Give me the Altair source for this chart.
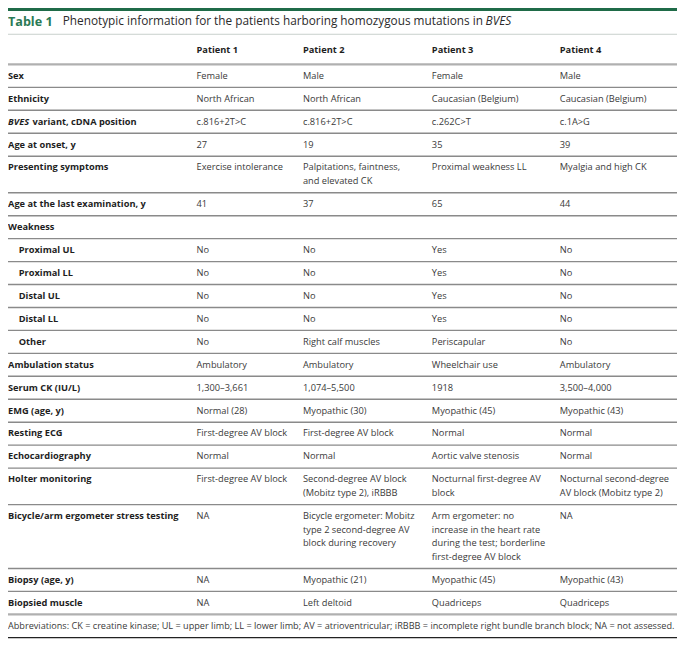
import altair as alt
import pandas as pd

# ---------------- data ----------------
title_parts = ["Table 1",
               "Phenotypic information for the patients harboring homozygous mutations in",
               "BVES"]
patients = ["Patient 1", "Patient 2", "Patient 3", "Patient 4"]

labels = ["Sex", "Ethnicity", "BVES variant, cDNA position", "Age at onset, y",
          "Presenting symptoms", "Age at the last examination, y", "Weakness",
          "Proximal UL", "Proximal LL", "Distal UL", "Distal LL", "Other",
          "Ambulation status", "Serum CK (IU/L)", "EMG (age, y)", "Resting ECG",
          "Echocardiography", "Holter monitoring",
          "Bicycle/arm ergometer stress testing", "Biopsy (age, y)", "Biopsied muscle"]
indented = ["Proximal UL", "Proximal LL", "Distal UL", "Distal LL", "Other"]
italic_prefix = {"BVES variant, cDNA position": ("BVES", "variant, cDNA position")}

p1 = ["Female", "North African", "c.816+2T>C", "27", "Exercise intolerance", "41", "",
      "No", "No", "No", "No", "No", "Ambulatory", "1,300–3,661", "Normal (28)",
      "First-degree AV block", "Normal", "First-degree AV block", "NA", "NA", "NA"]
p2 = ["Male", "North African", "c.816+2T>C", "19",
      "Palpitations, faintness,\nand elevated CK", "37", "",
      "No", "No", "No", "No", "Right calf muscles", "Ambulatory", "1,074–5,500",
      "Myopathic (30)", "First-degree AV block", "Normal",
      "Second-degree AV block\n(Mobitz type 2), iRBBB",
      "Bicycle ergometer: Mobitz\ntype 2 second-degree AV\nblock during recovery",
      "Myopathic (21)", "Left deltoid"]
p3 = ["Female", "Caucasian (Belgium)", "c.262C>T", "35", "Proximal weakness LL", "65", "",
      "Yes", "Yes", "Yes", "Yes", "Periscapular", "Wheelchair use", "1918",
      "Myopathic (45)", "Normal", "Aortic valve stenosis",
      "Nocturnal first-degree AV\nblock",
      "Arm ergometer: no\nincrease in the heart rate\nduring the test; borderline\nfirst-degree AV block",
      "Myopathic (45)", "Quadriceps"]
p4 = ["Male", "Caucasian (Belgium)", "c.1A>G", "39", "Myalgia and high CK", "44", "",
      "No", "No", "No", "No", "No", "Ambulatory", "3,500–4,000", "Myopathic (43)",
      "Normal", "Normal", "Nocturnal second-degree\nAV block (Mobitz type 2)", "NA",
      "Myopathic (43)", "Quadriceps"]
footnote = ("Abbreviations: CK = creatine kinase; UL = upper limb; LL = lower limb; "
            "AV = atrioventricular; iRBBB = incomplete right bundle branch block; "
            "NA = not assessed.")

# ---------------- layout ----------------
W, H = 669, 632
REF_W, REF_H = 685, 650
sy = H / REF_H
FONT = "Open Sans"
FS = 9.25
FFS = 9.15
TFS = 11.8
col_x = [193, 302, 434, 565]
label_x, indent_x = 0, 11
row_h1, line_h = 23.6, 14
header_bottom = 58

values = [p1, p2, p3, p4]
row_tops = []
t = header_bottom
for i in range(len(labels)):
    n = max(v[i].count("\n") + 1 for v in values)
    row_tops.append(t)
    t += row_h1 + line_h * (n - 1)
table_bottom = t

xs = alt.Scale(domain=[0, REF_W], nice=False, zero=False)
ys = alt.Scale(domain=[0, REF_H], reverse=True, nice=False, zero=False)
X = lambda f: alt.X(f, type="quantitative", scale=xs, axis=None)
Y = lambda f: alt.Y(f, type="quantitative", scale=ys, axis=None)

cells = []
for ci, v in enumerate(values):
    for ri, txt in enumerate(v):
        cells.append({"x": col_x[ci], "y": row_tops[ri] + 7.5, "t": txt})
cells = pd.DataFrame(cells)

lab_rows, ital_rows = [], []
for ri, lab in enumerate(labels):
    y = row_tops[ri] + 7.5
    x = indent_x if lab in indented else label_x
    if lab in italic_prefix:
        it, rest = italic_prefix[lab]
        ital_rows.append({"x": x, "y": y, "t": it})
        lab_rows.append({"x": x + 25, "y": y, "t": rest})
    else:
        lab_rows.append({"x": x, "y": y, "t": lab})
labs = pd.DataFrame(lab_rows)
itals = pd.DataFrame(ital_rows)

heads = pd.DataFrame({"x": col_x, "y": [39.5] * 4, "t": patients})

base_text = dict(align="left", baseline="top", font=FONT, fontSize=FS,
                 lineBreak="\n", lineHeight=line_h * sy)

cell_layer = alt.Chart(cells).mark_text(color="#3a3a3a", **base_text).encode(
    x=X("x"), y=Y("y"), text="t:N")
lab_layer = alt.Chart(labs).mark_text(color="#1e1e1e", fontWeight="bold", **base_text).encode(
    x=X("x"), y=Y("y"), text="t:N")
ital_layer = alt.Chart(itals).mark_text(color="#1e1e1e", fontWeight="bold", fontStyle="italic",
                                        **base_text).encode(x=X("x"), y=Y("y"), text="t:N")
head_layer = alt.Chart(heads).mark_text(color="#1e1e1e", fontWeight="bold", **base_text).encode(
    x=X("x"), y=Y("y"), text="t:N")

title_df = pd.DataFrame({"x": [0, 56, 489], "y": [8.0, 8.5, 8.5], "t": title_parts,
                         "k": ["a", "b", "c"]})
t_a = alt.Chart(title_df[title_df.k == "a"]).mark_text(
    align="left", baseline="top", font=FONT, fontSize=12.6, fontWeight="bold",
    color="#2a7a55").encode(x=X("x"), y=Y("y"), text="t:N")
t_b = alt.Chart(title_df[title_df.k == "b"]).mark_text(
    align="left", baseline="top", font=FONT, fontSize=TFS, color="#2b2b2b").encode(
    x=X("x"), y=Y("y"), text="t:N")
t_c = alt.Chart(title_df[title_df.k == "c"]).mark_text(
    align="left", baseline="top", font=FONT, fontSize=TFS, fontStyle="italic",
    color="#2b2b2b").encode(x=X("x"), y=Y("y"), text="t:N")

foot_df = pd.DataFrame({"x": [0], "y": [table_bottom + 7.5], "t": [footnote]})
foot_layer = alt.Chart(foot_df).mark_text(
    color="#3a3a3a", align="left", baseline="top", font=FONT, fontSize=FFS).encode(
    x=X("x"), y=Y("y"), text="t:N")

rules = pd.DataFrame([{"x": 0, "x2": REF_W, "y": r} for r in row_tops[1:]])
rule_layer = alt.Chart(rules).mark_rule(color="#8a8a8a", strokeWidth=1.4).encode(
    x=X("x"), x2="x2", y=Y("y"))
heavy = pd.DataFrame({"x": [0, 0], "x2": [REF_W, REF_W], "y": [header_bottom, table_bottom]})
heavy_layer = alt.Chart(heavy).mark_rule(color="#b0b0b0", strokeWidth=2.4).encode(
    x=X("x"), x2="x2", y=Y("y"))
light = pd.DataFrame({"x": [0], "x2": [REF_W], "y": [27]})
light_layer = alt.Chart(light).mark_rule(color="#c8d0cc", strokeWidth=1).encode(
    x=X("x"), x2="x2", y=Y("y"))
bottom = pd.DataFrame({"x": [0], "x2": [REF_W], "y": [table_bottom + 24]})
bottom_layer = alt.Chart(bottom).mark_rule(color="#222222", strokeWidth=1.3).encode(
    x=X("x"), x2="x2", y=Y("y"))

bar = pd.DataFrame({"x": [0], "x2": [REF_W], "y": [0], "y2": [3]})
bar_layer = alt.Chart(bar).mark_rect(color="#1f6b48").encode(
    x=X("x"), x2="x2", y=Y("y"), y2="y2")

chart = alt.layer(bar_layer, light_layer, rule_layer, heavy_layer, bottom_layer,
                  t_a, t_b, t_c, head_layer, lab_layer, ital_layer, cell_layer,
                  foot_layer).properties(
    width=W, height=H, padding=0, background="white",
    autosize=alt.AutoSizeParams(type="none")
).configure_view(strokeWidth=0)

chart.save("out.html", embed_options={"renderer": "svg", "actions": False})
